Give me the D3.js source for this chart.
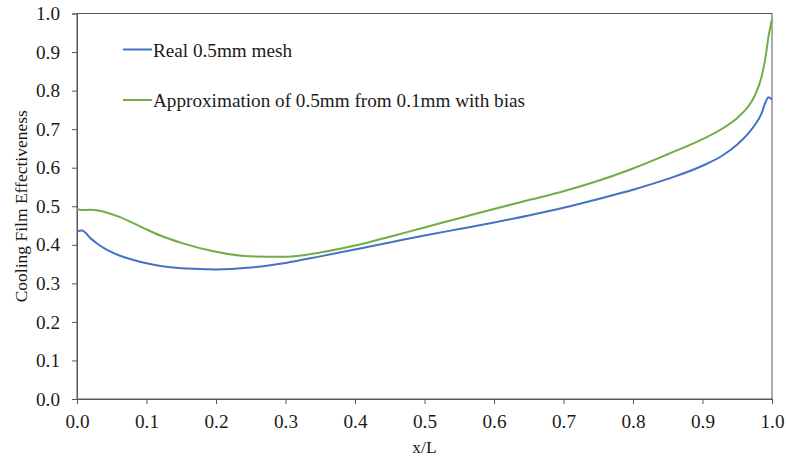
<!DOCTYPE html>
<html>
<head>
<meta charset="utf-8">
<script src="https://cdn.jsdelivr.net/npm/d3@7"></script>
<style>
  html, body { margin: 0; padding: 0; background: #fff; }
  svg text { font-family: "Liberation Serif", "Times New Roman", serif; fill: #1a1a1a; }
</style>
</head>
<body>
<svg id="chart" width="786" height="459"></svg>
<script>
// x/L positions sampled along the surface
const xPos = [0, 0.007, 0.02, 0.03, 0.04, 0.06, 0.08, 0.1, 0.12, 0.15, 0.2, 0.25, 0.3, 0.35, 0.4,
  0.45, 0.5, 0.55, 0.6, 0.65, 0.7, 0.75, 0.8, 0.85, 0.9, 0.93, 0.95, 0.965, 0.975, 0.985, 0.99, 0.995, 1.0];

// Real 0.5mm mesh
const realMesh = [0.435, 0.437, 0.416, 0.402, 0.390, 0.373, 0.361, 0.352, 0.345, 0.339, 0.336, 0.341,
  0.353, 0.370, 0.388, 0.406, 0.424, 0.441, 0.458, 0.476, 0.496, 0.519, 0.543, 0.571, 0.605, 0.633,
  0.660, 0.687, 0.710, 0.741, 0.767, 0.783, 0.777];

// Approximation of 0.5mm from 0.1mm with bias
const approxMesh = [0.492, 0.490, 0.491, 0.489, 0.485, 0.473, 0.457, 0.440, 0.424, 0.405, 0.382, 0.370,
  0.369, 0.380, 0.398, 0.421, 0.445, 0.469, 0.493, 0.516, 0.539, 0.566, 0.598, 0.635, 0.674, 0.703,
  0.729, 0.757, 0.786, 0.836, 0.879, 0.940, 0.985];

const xTicks = [0, 0.1, 0.2, 0.3, 0.4, 0.5, 0.6, 0.7, 0.8, 0.9, 1.0];
const yTicks = [0, 0.1, 0.2, 0.3, 0.4, 0.5, 0.6, 0.7, 0.8, 0.9, 1.0];

const seriesNames = ["Real 0.5mm mesh", "Approximation of 0.5mm from 0.1mm with bias"];
const seriesColors = ["#4472C4", "#70AD47"];

const svg = d3.select("#chart");
const m = { left: 77, right: 772, top: 13.5, bottom: 399 };
const labelFont = 19.2;

const x = d3.scaleLinear().domain([0, 1]).range([m.left, m.right]);
const y = d3.scaleLinear().domain([0, 1]).range([m.bottom, m.top]);

// plot frame
svg.append("rect")
  .attr("x", m.left).attr("y", m.top)
  .attr("width", m.right - m.left).attr("height", m.bottom - m.top)
  .attr("fill", "none").attr("stroke", "#595959").attr("stroke-width", 1);

const fmt = d3.format(".1f");

const xAxis = svg.append("g")
  .attr("transform", `translate(0,${m.bottom})`)
  .call(d3.axisBottom(x).tickValues(xTicks).tickFormat(fmt).tickSize(5).tickPadding(10));
const yAxis = svg.append("g")
  .attr("transform", `translate(${m.left},0)`)
  .call(d3.axisLeft(y).tickValues(yTicks).tickFormat(fmt).tickSize(5).tickPadding(12));

[xAxis, yAxis].forEach(g => {
  g.attr("font-family", null).attr("font-size", null);
  g.select(".domain").attr("stroke", "#595959");
  g.selectAll(".tick line").attr("stroke", "#595959");
  g.selectAll(".tick text").attr("font-size", labelFont).attr("fill", "#1a1a1a");
});

// axis titles
svg.append("text").attr("x", (m.left + m.right) / 2).attr("y", 453)
  .attr("text-anchor", "middle").attr("font-size", 17.5).text("x/L");
svg.append("text")
  .attr("transform", `translate(27,${(m.top + m.bottom) / 2}) rotate(-90)`)
  .attr("text-anchor", "middle").attr("font-size", 17.5).text("Cooling Film Effectiveness");

// series lines
const line = d3.line()
  .x((d, i) => x(xPos[i]))
  .y(d => y(d))
  .curve(d3.curveMonotoneX);

[realMesh, approxMesh].forEach((vals, k) => {
  svg.append("path")
    .datum(vals)
    .attr("d", line)
    .attr("fill", "none")
    .attr("stroke", seriesColors[k])
    .attr("stroke-width", 2);
});

// legend
const legendY = [49.5, 100];
seriesNames.forEach((name, k) => {
  svg.append("line")
    .attr("x1", 123).attr("x2", 152)
    .attr("y1", legendY[k]).attr("y2", legendY[k])
    .attr("stroke", seriesColors[k]).attr("stroke-width", 2);
  svg.append("text")
    .attr("x", 153).attr("y", legendY[k] + 7)
    .attr("font-size", labelFont).text(name);
});
</script>
</body>
</html>
